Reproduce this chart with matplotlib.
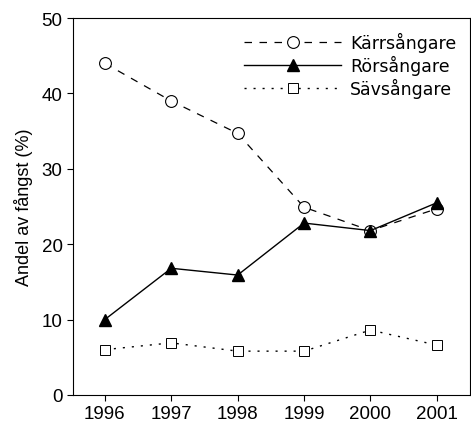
import numpy as np
import matplotlib.pyplot as plt

# andel av fångst per art och år
years = [1996, 1997, 1998, 1999, 2000, 2001]
karr = [44.0, 39.0, 34.7, 24.9, 21.8, 24.7]
ror = [10.0, 16.8, 15.9, 22.8, 21.8, 25.5]
sav = [6.0, 6.9, 5.8, 5.8, 8.6, 6.6]

fig = plt.figure(figsize=(4.71, 4.35), dpi=100)
ax = fig.add_axes([0.155, 0.09, 0.843, 0.866])

ax.plot(years, karr, 'k--', lw=0.9, marker='o', ms=8.5, mfc='white', mew=0.8,
        dashes=(6, 6), label='Kärrsångare')
ax.plot(years, ror, 'k-', lw=1.0, marker='^', ms=8.5, mfc='black',
        label='Rörsångare')
ax.plot(years, sav, 'k:', lw=1.0, marker='s', ms=7.5, mfc='white', mew=0.7,
        dashes=(1.5, 5), label='Sävsångare')

ax.set_xlim(1995.52, 2001.5)
ax.set_ylim(0, 50)
ax.set_xticks(years)
ax.set_yticks([0, 10, 20, 30, 40, 50])
ax.tick_params(labelsize=13.5, length=4, width=0.8, direction='out')
for lab in ax.get_xticklabels() + ax.get_yticklabels():
    lab.set_family('Liberation Sans')
ax.set_ylabel('Andel av fångst (%)', fontsize=13, family='Liberation Sans',
              labelpad=6)
for s in ax.spines.values():
    s.set_linewidth(0.8)

leg = ax.legend(loc='upper right', frameon=False, fontsize=12.5, handlelength=5.6,
                handletextpad=0.5, labelspacing=0.17, borderaxespad=0.4)

plt.savefig('out.png', dpi=100)
